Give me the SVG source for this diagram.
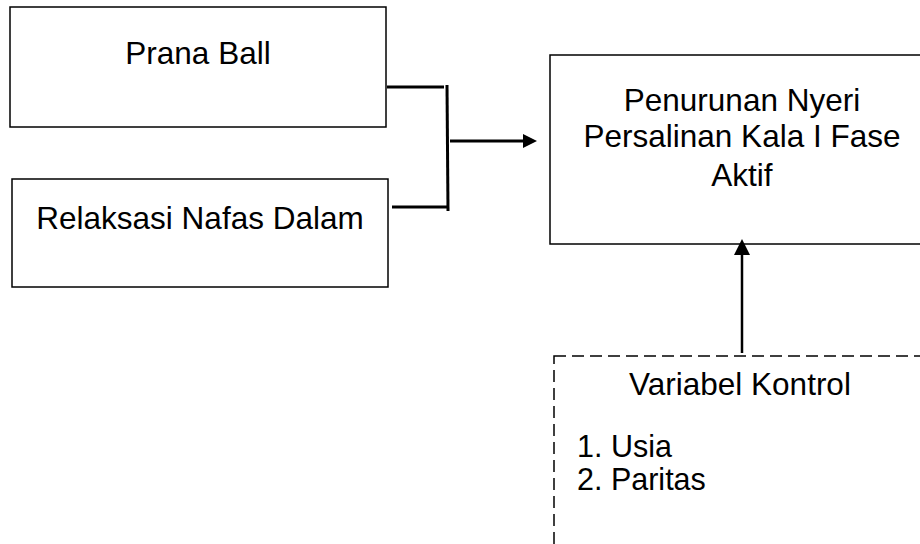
<svg xmlns="http://www.w3.org/2000/svg" width="920" height="544" viewBox="0 0 920 544">
<style>
.box{fill:#fff;stroke:#000;stroke-width:1.5}
.dash{fill:#fff;stroke:#000;stroke-width:1.5;stroke-dasharray:12 6}
.t{font-family:"Liberation Sans",Arial,sans-serif;font-size:31.5px;fill:#000}
.li{font-size:30.5px}
.c{text-anchor:middle}
.ln{fill:none;stroke:#000;stroke-width:3}
.ar{fill:none;stroke:#000;stroke-width:2.5}
</style>
<g id="prana-ball">
<rect class="box" x="10" y="7" width="376" height="120"/>
<text class="t c" x="198" y="64">Prana Ball</text>
</g>
<g id="relaksasi">
<rect class="box" x="12" y="179" width="376" height="108"/>
<text class="t c" x="200" y="229">Relaksasi Nafas Dalam</text>
</g>
<g id="penurunan">
<rect class="box" x="550" y="55" width="384" height="189"/>
<text class="t c" x="742" y="111">Penurunan Nyeri</text>
<text class="t c" x="742" y="147">Persalinan Kala I Fase</text>
<text class="t c" x="742" y="186">Aktif</text>
</g>
<g id="variabel-kontrol">
<rect class="dash" x="554" y="356" width="380" height="200"/>
<text class="t c" x="740" y="395">Variabel Kontrol</text>
<text class="t li" x="577" y="457">1. Usia</text>
<text class="t li" x="577" y="490">2. Paritas</text>
</g>
<g id="connectors">
<line class="ln" x1="387" y1="87" x2="444" y2="87"/>
<line class="ln" x1="392" y1="207" x2="449" y2="207"/>
<line class="ln" x1="447" y1="85" x2="448" y2="211"/>
<path d="M450,141 L523,141" class="ln"/>
<path d="M523,134 L537,141 L523,148 Z" fill="#000"/>
<path d="M742,353 L742,255" class="ar"/>
<path d="M734,255 L742,239 L750,255 Z" fill="#000"/>
</g>
</svg>
